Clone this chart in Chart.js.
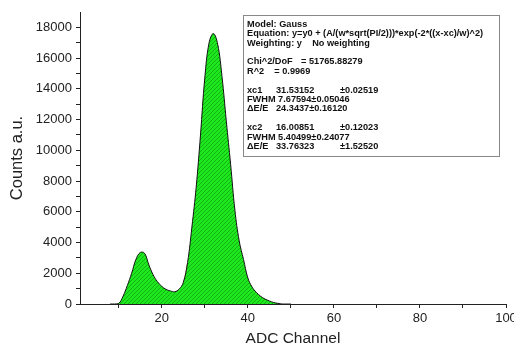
<!DOCTYPE html>
<html>
<head>
<meta charset="utf-8">
<script src="https://cdn.jsdelivr.net/npm/chart.js@4.4.0/dist/chart.umd.min.js"></script>
<style>
  html, body { margin: 0; padding: 0; background: #fff; overflow: hidden; }
  #wrap { width: 530px; height: 348px; }
</style>
</head>
<body>
<div id="wrap"><canvas id="adcChart" width="530" height="348"></canvas></div>
<script>
// ADC channel vs counts
const channels = [8, 9, 10, 11, 12, 13, 14, 15, 16, 17, 18, 19, 20, 21, 22, 23, 24, 25, 26, 27, 28, 29,
    30, 31, 32, 33, 34, 35, 36, 37, 38, 39, 40, 41, 42, 43, 44, 45, 46, 47, 48, 49, 50];
const counts = [0, 0, 30, 500, 1200, 2000, 2900, 3350, 3300, 2550, 1900, 1450, 1150, 950, 850, 800, 950, 1400, 2700, 5000, 7600, 11000,
    14700, 17000, 17600, 16900, 14800, 11900, 9100, 6100, 4100, 2900, 1700, 1100, 750, 500, 320, 200, 100, 40, 0, 0, 0];

// fit curve, only visible where it leaves the data (valley)
const fitChannels = [20, 21, 22, 23, 24, 25, 26];
const fitCounts = [1100, 800, 580, 500, 650, 1250, 2650];

const xMin = 1, xMax = 100;
const yMax = 19000;

const fitText = [
    ['Model: Gauss'],
    ['Equation: y=y0 + (A/(w*sqrt(PI/2)))*exp(-2*((x-xc)/w)^2)'],
    ['Weighting: y    No weighting'],
    [],
    ['Chi^2/DoF', '= 51765.88279'],
    ['R^2    = 0.9969'],
    [],
    ['xc1', '31.53152', '\u00b10.02519'],
    ['FWHM 7.67594\u00b10.05046'],
    ['\u0394E/E', '24.3437\u00b10.16120'],
    [],
    ['xc2', '16.00851', '\u00b10.12023'],
    ['FWHM 5.40499\u00b10.24077'],
    ['\u0394E/E', '33.76323', '\u00b11.52520']
];

function hatchPattern() {
    var c = document.createElement('canvas');
    c.width = 4; c.height = 4;
    var g = c.getContext('2d');
    g.fillStyle = '#1ee81e';
    g.fillRect(0, 0, 4, 4);
    g.strokeStyle = '#12b012';
    g.lineWidth = 1;
    g.beginPath();
    g.moveTo(-1, 5); g.lineTo(5, -1);
    g.moveTo(-1, 1); g.lineTo(1, -1);
    g.moveTo(3, 5); g.lineTo(5, 3);
    g.stroke();
    return g.createPattern(c, 'repeat');
}

const fitBox = {
    id: 'fitBox',
    afterDraw(chart) {
        const ctx = chart.ctx;
        const x = 243.5, y = 15.5, w = 256, h = 141;
        ctx.save();
        ctx.fillStyle = '#fff';
        ctx.fillRect(x, y, w, h);
        ctx.strokeStyle = '#888';
        ctx.lineWidth = 1;
        ctx.strokeRect(x, y, w, h);
        ctx.fillStyle = '#111';
        ctx.font = 'bold 9.2px "Liberation Sans", Arial, sans-serif';
        ctx.textBaseline = 'middle';
        const cols = [247, 276, 340];
        let ty = 24.3;
        fitText.forEach(function (row) {
            if (row.length === 0) { ty += 9.4; return; }
            if (row.length === 2 && row[0] === 'Chi^2/DoF') {
                ctx.fillText(row[0], cols[0], ty);
                ctx.fillText(row[1], 301, ty);
            } else {
                row.forEach(function (s, i) { ctx.fillText(s, cols[i], ty); });
            }
            ty += 9.4;
        });
        ctx.restore();
    }
};

const data = {
    datasets: [{
        label: 'Counts',
        data: channels.map((c, i) => ({ x: c, y: counts[i] })),
        borderColor: '#111',
        borderWidth: 1,
        backgroundColor: hatchPattern(),
        fill: 'origin',
        pointRadius: 0,
        tension: 0.4,
        order: 1
    },
    {
        label: 'Fit',
        data: fitChannels.map((c, i) => ({ x: c, y: fitCounts[i] })),
        borderColor: '#c8501e',
        borderWidth: 0.8,
        fill: false,
        pointRadius: 0,
        tension: 0.4,
        order: 2
    }]
};

const tickFont = { family: '"Liberation Sans", Arial, sans-serif', size: 13 };

const config = {
    type: 'line',
    data: data,
    options: {
        responsive: false,
        animation: false,
        layout: { padding: { left: 0, right: 24, top: 12, bottom: 0 } },
        plugins: {
            legend: { display: false },
            tooltip: { enabled: false }
        },
        scales: {
            x: {
                type: 'linear',
                min: xMin,
                max: xMax,
                border: { color: '#222', width: 1 },
                grid: { drawOnChartArea: false, drawTicks: true, tickLength: 4, color: '#222' },
                afterBuildTicks: function (scale) {
                    scale.ticks = scale.ticks.filter(t => t.value % 10 === 0);
                },
                afterFit: function (scale) { scale.height = 44; },
                ticks: {
                    stepSize: 10,
                    autoSkip: false,
                    maxRotation: 0,
                    color: '#222',
                    font: tickFont,
                    padding: 3,
                    callback: function (v) { return v % 20 === 0 ? v : ''; }
                },
                title: {
                    display: true,
                    text: 'ADC Channel',
                    color: '#222',
                    font: { family: '"Liberation Sans", Arial, sans-serif', size: 15.5 },
                    padding: { top: 0, bottom: 0 }
                }
            },
            y: {
                type: 'linear',
                min: 0,
                max: yMax,
                border: { color: '#222', width: 1 },
                grid: { drawOnChartArea: false, drawTicks: true, tickLength: 4, color: '#222' },
                afterBuildTicks: function (scale) {
                    scale.ticks = scale.ticks.filter(t => t.value < yMax);
                },
                afterFit: function (scale) { scale.width = 80; },
                ticks: {
                    stepSize: 1000,
                    autoSkip: false,
                    color: '#222',
                    font: tickFont,
                    padding: 4,
                    callback: function (v) { return v % 2000 === 0 ? v : ''; }
                },
                title: {
                    display: true,
                    text: 'Counts a.u.',
                    color: '#222',
                    font: { family: '"Liberation Sans", Arial, sans-serif', size: 16.5 },
                    padding: { top: 8, bottom: 0 }
                }
            }
        }
    },
    plugins: [fitBox]
};

const adcChart = new Chart(document.getElementById('adcChart'), config);
</script>
</body>
</html>
